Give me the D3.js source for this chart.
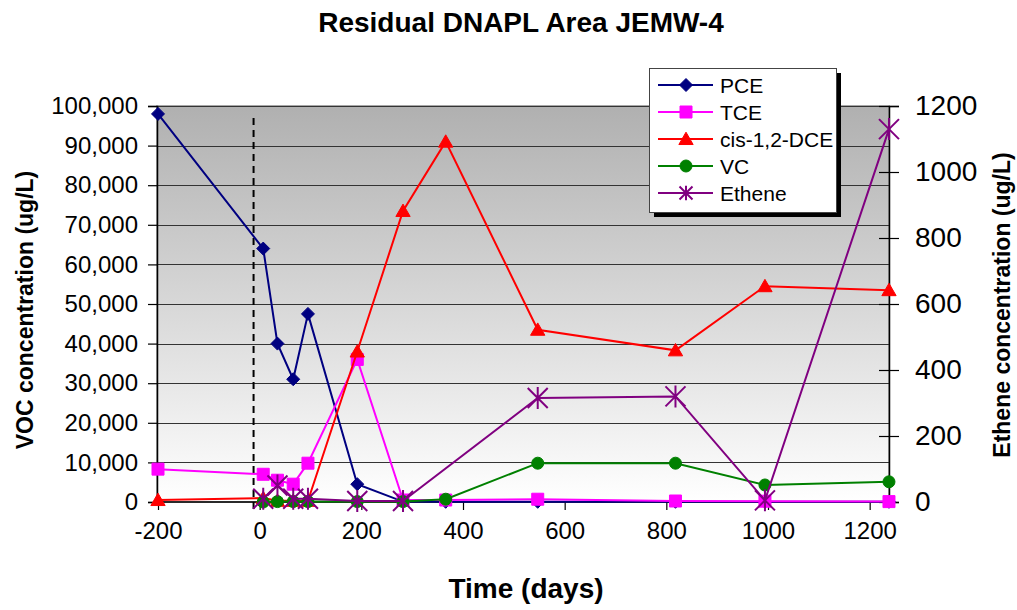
<!DOCTYPE html>
<html><head><meta charset="utf-8">
<script src="https://cdn.jsdelivr.net/npm/d3@7"></script>
<style>body{margin:0;background:#fff;} svg{display:block;font-family:"Liberation Sans",Arial,sans-serif;}</style>
</head><body><svg id="chart" width="1017" height="610"></svg>
<script>
// ---- data ----
const days   = [-200, 7, 35, 66, 95, 192, 282, 366, 547, 818, 994, 1238];
const pce    = [98000, 64000, 40000, 31000, 47500, 4500, 100, 50, 50, 50, 50, 50];
const tce    = [8300, 7000, 5500, 4500, 9800, 36000, 500, 500, 700, 250, 200, 100];
const dce    = [500, 1000, 300, 300, 300, 38000, 73500, 91000, 43500, 38300, 54500, 53500];
const vc     = [null, 0, 100, 100, 100, 100, 100, 700, 9800, 9800, 4300, 5100];
const ethene = [null, 10, 50, 10, 10, 3, 3, null, 315, 320, 5, 1130];
const xTicks = [-200, 0, 200, 400, 600, 800, 1000, 1200];
const leftTicks = [0,10000,20000,30000,40000,50000,60000,70000,80000,90000,100000];
const rightTicks = [0,200,400,600,800,1000,1200];
const injectionDay = -12;

const seriesNames = ["PCE","TCE","cis-1,2-DCE","VC","Ethene"];
const seriesColors = ["#000080","#ff00ff","#ff0000","#008000","#800080"];
const seriesSymbols = ["diamond","square","triangle","circle","star"];
const seriesValues = [pce, tce, dce, vc, ethene];
const seriesAxis = ["left","left","left","left","right"];

// ---- layout ----
const svg = d3.select("#chart");
const L = 157, R = 889, T = 106, B = 502;
const x = d3.scaleLinear().domain([-200, 1240]).range([158, 890]);
const yL = d3.scaleLinear().domain([0, 100000]).range([B, T]);
const yR = d3.scaleLinear().domain([0, 1200]).range([B, T]);

// gradient background
const defs = svg.append("defs");
const grad = defs.append("linearGradient").attr("id","bg").attr("x1",0).attr("y1",0).attr("x2",0).attr("y2",1);
grad.append("stop").attr("offset","0%").attr("stop-color","#b0b0b0");
grad.append("stop").attr("offset","100%").attr("stop-color","#ffffff");
svg.append("rect").attr("x",L).attr("y",T).attr("width",R-L).attr("height",B-T)
  .attr("fill","url(#bg)").attr("stroke","#8a8a8a").attr("stroke-width",1.5);

// gridlines
svg.append("g").selectAll("line").data(leftTicks.filter(d=>d>0)).join("line")
  .attr("x1",L).attr("x2",R).attr("y1",d=>Math.round(yL(d))+0.5).attr("y2",d=>Math.round(yL(d))+0.5)
  .attr("stroke","#333").attr("stroke-width",1);

// axes
const axL = svg.append("g").attr("transform",`translate(${L},0)`)
  .call(d3.axisLeft(yL).tickValues(leftTicks).tickFormat(d3.format(",")).tickSize(9).tickPadding(10));
const axR = svg.append("g").attr("transform",`translate(${R},0)`)
  .call(d3.axisRight(yR).tickValues(rightTicks).tickFormat(d=>String(d)).tickSize(10).tickPadding(16));
axR.selectAll(".tick line").attr("x1",-10);
const axX = svg.append("g").attr("transform",`translate(0,${B})`)
  .call(d3.axisBottom(x).tickValues(xTicks).tickFormat(d=>String(d)).tickSize(8).tickPadding(12));
[axL,axR,axX].forEach(a=>{
  a.select(".domain").attr("stroke","#000").attr("stroke-width",1.5);
  a.selectAll(".tick line").attr("stroke","#000").attr("stroke-width",1.2);
  a.selectAll("text").attr("fill","#000").attr("font-family",'"Liberation Sans",Arial,sans-serif');
});
axL.selectAll("text").attr("font-size",24);
axR.selectAll("text").attr("font-size",28);
axX.selectAll("text").attr("font-size",24);
axX.select(".domain").attr("d",`M${L},0H${R}`);

// dashed reference line
svg.append("line").attr("x1",x(injectionDay)).attr("x2",x(injectionDay))
  .attr("y1",yL(97000)).attr("y2",B+9).attr("stroke","#000").attr("stroke-width",2)
  .attr("stroke-dasharray","7,5");

// symbols
function symPath(type, s){
  switch(type){
    case "diamond": return `M0,${-s}L${s},0L0,${s}L${-s},0Z`;
    case "square": return `M${-s},${-s}H${s}V${s}H${-s}Z`;
    case "triangle": return `M0,${-s*1.05}L${s*1.1},${s*0.85}L${-s*1.1},${s*0.85}Z`;
    case "circle": return d3.symbol(d3.symbolCircle, Math.PI*s*s)();
    case "star": return `M0,${-s*1.1}V${s*1.1}M${-s},${-s}L${s},${s}M${-s},${s}L${s},${-s}`;
  }
}
const symSize = {diamond:6.5, square:6, triangle:6.5, circle:6, star:10};

// series
seriesNames.forEach((name,i)=>{
  const y = seriesAxis[i]==="left" ? yL : yR;
  const pts = days.map((d,j)=>({d, v:seriesValues[i][j]})).filter(p=>p.v!==null);
  const line = d3.line().x(p=>x(p.d)).y(p=>y(p.v));
  const g = svg.append("g");
  g.append("path").attr("d",line(pts)).attr("fill","none")
    .attr("stroke",seriesColors[i]).attr("stroke-width",2);
  const sym = seriesSymbols[i];
  g.selectAll("path.m").data(pts).join("path").attr("class","m")
    .attr("transform",p=>`translate(${x(p.d)},${y(p.v)})`)
    .attr("d",symPath(sym, symSize[sym]))
    .attr("fill",sym==="star"?"none":seriesColors[i])
    .attr("stroke",seriesColors[i]).attr("stroke-width",sym==="star"?2:1);
});

// titles
svg.append("text").attr("x",521).attr("y",32).attr("text-anchor","middle")
  .attr("font-size",28).attr("font-weight","bold").text("Residual DNAPL Area JEMW-4");
svg.append("text").attr("x",526).attr("y",598).attr("text-anchor","middle")
  .attr("font-size",28).attr("font-weight","bold").text("Time (days)");
svg.append("text").attr("transform","translate(33,310) rotate(-90)").attr("text-anchor","middle")
  .attr("font-size",23).attr("font-weight","bold").text("VOC concentration (ug/L)");
svg.append("text").attr("transform","translate(1010,305) rotate(-90)").attr("text-anchor","middle")
  .attr("font-size",23).attr("font-weight","bold").text("Ethene concentration (ug/L)");

// legend
const lg = svg.append("g");
lg.append("rect").attr("x",654).attr("y",73).attr("width",187).attr("height",144).attr("fill","#000");
lg.append("rect").attr("x",649.5).attr("y",68.5).attr("width",187).attr("height",144)
  .attr("fill","#fff").attr("stroke","#444").attr("stroke-width",1);
seriesNames.forEach((name,i)=>{
  const cy = 85 + i*27;
  lg.append("line").attr("x1",658).attr("x2",713).attr("y1",cy).attr("y2",cy)
    .attr("stroke",seriesColors[i]).attr("stroke-width",2);
  const sym = seriesSymbols[i];
  lg.append("path").attr("transform",`translate(686,${cy})`)
    .attr("d",symPath(sym, sym==="star"?6.5:symSize[sym]))
    .attr("fill",sym==="star"?"none":seriesColors[i])
    .attr("stroke",seriesColors[i]).attr("stroke-width",sym==="star"?2:1);
  lg.append("text").attr("x",720).attr("y",cy+7.5).attr("font-size",21).text(name);
});
</script></body></html>
